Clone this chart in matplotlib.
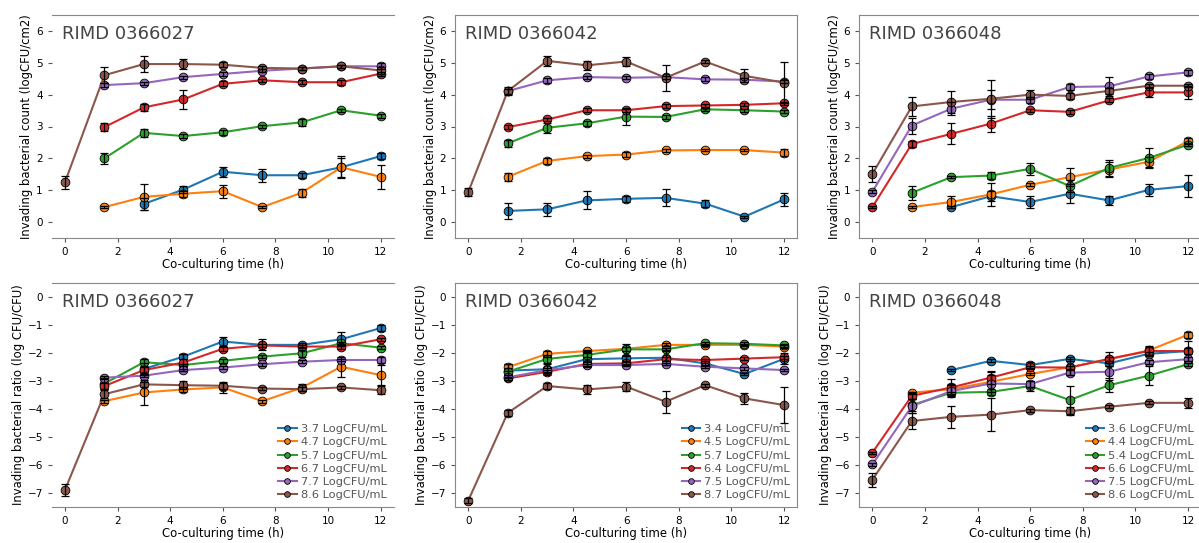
import numpy as np
import matplotlib
matplotlib.use("Agg")
import matplotlib.pyplot as plt

nan = np.nan

# sampling times (h)
times = [0, 1.5, 3, 4.5, 6, 7.5, 9, 10.5, 12]
strains = ["RIMD 0366027", "RIMD 0366042", "RIMD 0366048"]

# inoculum labels per strain
doses_027 = ["3.7", "4.7", "5.7", "6.7", "7.7", "8.6"]
doses_042 = ["3.4", "4.5", "5.7", "6.4", "7.5", "8.7"]
doses_048 = ["3.6", "4.4", "5.4", "6.6", "7.5", "8.6"]

# invading count (logCFU/cm2), rows = doses low -> high
count_027 = [
    [nan, nan, 0.57, 1.02, 1.58, 1.47, 1.47, 1.72, 2.07],
    [nan, 0.47, 0.79, 0.89, 0.97, 0.47, 0.92, 1.72, 1.42],
    [nan, 2.00, 2.80, 2.70, 2.82, 3.01, 3.13, 3.51, 3.34],
    [nan, 2.98, 3.60, 3.85, 4.34, 4.45, 4.39, 4.39, 4.66],
    [nan, 4.30, 4.36, 4.55, 4.65, 4.75, 4.82, 4.89, 4.89],
    [1.25, 4.61, 4.96, 4.96, 4.94, 4.84, 4.82, 4.89, 4.76],
]
count_027_err = [
    [nan, nan, 0.20, 0.10, 0.15, 0.20, 0.08, 0.30, 0.10],
    [nan, 0.03, 0.42, 0.10, 0.20, 0.03, 0.12, 0.35, 0.37],
    [nan, 0.18, 0.13, 0.05, 0.08, 0.05, 0.12, 0.05, 0.06],
    [nan, 0.12, 0.12, 0.30, 0.08, 0.05, 0.06, 0.08, 0.06],
    [nan, 0.05, 0.05, 0.05, 0.05, 0.05, 0.05, 0.05, 0.10],
    [0.20, 0.25, 0.25, 0.15, 0.08, 0.05, 0.05, 0.05, 0.10],
]
count_042 = [
    [nan, 0.35, 0.40, 0.68, 0.73, 0.76, 0.58, 0.17, 0.71],
    [nan, 1.42, 1.92, 2.07, 2.12, 2.25, 2.26, 2.26, 2.18],
    [nan, 2.47, 2.96, 3.10, 3.31, 3.30, 3.54, 3.51, 3.47],
    [nan, 2.98, 3.22, 3.51, 3.51, 3.64, 3.66, 3.68, 3.73],
    [nan, 4.11, 4.45, 4.55, 4.53, 4.55, 4.48, 4.47, 4.41],
    [0.94, 4.11, 5.06, 4.92, 5.04, 4.53, 5.04, 4.59, 4.38],
]
count_042_err = [
    [nan, 0.25, 0.20, 0.28, 0.10, 0.27, 0.10, 0.03, 0.20],
    [nan, 0.12, 0.10, 0.05, 0.08, 0.05, 0.03, 0.03, 0.10],
    [nan, 0.12, 0.15, 0.08, 0.25, 0.06, 0.05, 0.05, 0.05],
    [nan, 0.06, 0.06, 0.06, 0.06, 0.06, 0.05, 0.05, 0.05],
    [nan, 0.08, 0.08, 0.05, 0.05, 0.05, 0.06, 0.06, 0.05],
    [0.12, 0.12, 0.15, 0.15, 0.15, 0.40, 0.05, 0.20, 0.63],
]
count_048 = [
    [nan, nan, 0.47, 0.81, 0.63, 0.89, 0.68, 1.01, 1.13],
    [nan, 0.47, 0.63, 0.87, 1.17, 1.41, 1.65, 1.89, 2.54],
    [nan, 0.92, 1.41, 1.46, 1.67, 1.13, 1.70, 2.01, 2.43],
    [0.47, 2.45, 2.77, 3.09, 3.51, 3.46, 3.82, 4.07, 4.07],
    [0.95, 3.03, 3.56, 3.84, 3.84, 4.24, 4.26, 4.57, 4.70],
    [1.51, 3.63, 3.77, 3.87, 4.00, 3.96, 4.12, 4.28, 4.28],
]
count_048_err = [
    [nan, nan, 0.03, 0.15, 0.20, 0.30, 0.15, 0.20, 0.35],
    [nan, 0.03, 0.20, 0.35, 0.05, 0.28, 0.25, 0.15, 0.10],
    [nan, 0.22, 0.04, 0.12, 0.18, 0.20, 0.25, 0.30, 0.05],
    [0.03, 0.10, 0.33, 0.25, 0.05, 0.06, 0.06, 0.15, 0.20],
    [0.05, 0.25, 0.20, 0.30, 0.10, 0.10, 0.30, 0.08, 0.08],
    [0.25, 0.30, 0.35, 0.60, 0.15, 0.10, 0.10, 0.05, 0.05],
]

# invading ratio (log CFU/CFU)
ratio_027 = [
    [nan, nan, -2.57, -2.13, -1.59, -1.71, -1.71, -1.51, -1.11],
    [nan, -3.72, -3.41, -3.30, -3.23, -3.72, -3.24, -2.49, -2.79],
    [nan, -3.09, -2.33, -2.43, -2.28, -2.13, -2.01, -1.65, -1.81],
    [nan, -3.18, -2.61, -2.34, -1.85, -1.73, -1.77, -1.77, -1.51],
    [nan, -2.88, -2.81, -2.61, -2.52, -2.40, -2.31, -2.25, -2.25],
    [-6.89, -3.47, -3.12, -3.15, -3.17, -3.27, -3.29, -3.23, -3.33],
]
ratio_027_err = [
    [nan, nan, 0.20, 0.10, 0.15, 0.20, 0.08, 0.25, 0.10],
    [nan, 0.05, 0.45, 0.10, 0.20, 0.05, 0.12, 0.35, 0.35],
    [nan, 0.18, 0.13, 0.05, 0.08, 0.05, 0.12, 0.05, 0.06],
    [nan, 0.12, 0.12, 0.30, 0.08, 0.05, 0.06, 0.08, 0.06],
    [nan, 0.05, 0.05, 0.05, 0.05, 0.05, 0.05, 0.05, 0.10],
    [0.20, 0.15, 0.10, 0.15, 0.10, 0.05, 0.08, 0.05, 0.15],
]
ratio_042 = [
    [nan, -2.63, -2.58, -2.22, -2.19, -2.17, -2.37, -2.75, -2.21],
    [nan, -2.51, -2.03, -1.93, -1.85, -1.71, -1.71, -1.71, -1.77],
    [nan, -2.67, -2.21, -2.07, -1.87, -1.87, -1.65, -1.67, -1.73],
    [nan, -2.91, -2.67, -2.39, -2.37, -2.22, -2.25, -2.20, -2.15],
    [nan, -2.87, -2.61, -2.43, -2.43, -2.39, -2.49, -2.55, -2.61],
    [-7.27, -4.14, -3.18, -3.30, -3.20, -3.74, -3.15, -3.62, -3.86],
]
ratio_042_err = [
    [nan, 0.25, 0.20, 0.28, 0.10, 0.27, 0.10, 0.03, 0.20],
    [nan, 0.12, 0.10, 0.05, 0.08, 0.05, 0.03, 0.03, 0.05],
    [nan, 0.12, 0.15, 0.08, 0.20, 0.06, 0.05, 0.05, 0.05],
    [nan, 0.06, 0.06, 0.06, 0.06, 0.06, 0.05, 0.05, 0.05],
    [nan, 0.08, 0.08, 0.05, 0.05, 0.05, 0.06, 0.06, 0.05],
    [0.10, 0.12, 0.12, 0.15, 0.15, 0.40, 0.05, 0.20, 0.65],
]
ratio_048 = [
    [nan, nan, -2.61, -2.28, -2.43, -2.21, -2.37, -2.03, -1.93],
    [nan, -3.42, -3.29, -3.03, -2.75, -2.51, -2.22, -1.91, -1.35],
    [nan, -3.86, -3.42, -3.39, -3.18, -3.68, -3.15, -2.81, -2.40],
    [-5.56, -3.53, -3.23, -2.88, -2.51, -2.52, -2.21, -1.93, -1.93],
    [-5.98, -3.90, -3.36, -3.09, -3.11, -2.70, -2.67, -2.33, -2.22],
    [-6.53, -4.43, -4.28, -4.20, -4.04, -4.08, -3.92, -3.78, -3.78],
]
ratio_048_err = [
    [nan, nan, 0.03, 0.05, 0.10, 0.08, 0.10, 0.08, 0.10],
    [nan, 0.03, 0.20, 0.35, 0.05, 0.28, 0.25, 0.15, 0.10],
    [nan, 0.22, 0.04, 0.12, 0.18, 0.50, 0.25, 0.35, 0.05],
    [0.03, 0.10, 0.30, 0.22, 0.05, 0.06, 0.06, 0.15, 0.35],
    [0.05, 0.25, 0.20, 0.30, 0.10, 0.10, 0.30, 0.08, 0.08],
    [0.25, 0.30, 0.40, 0.60, 0.05, 0.15, 0.06, 0.05, 0.18],
]

colors = ['#1f77b4', '#ff7f0e', '#2ca02c', '#d62728', '#9467bd', '#8c564b']

W, H = 1199, 543
fig = plt.figure(figsize=(W / 100, H / 100), dpi=100)

lefts = [51.8, 455.1, 859.2]
ax_w = 342
rows = [(15, 238), (283, 507)]  # top, bottom in pixels


def draw_panel(ax, means, errs, doses, name, ylabel, ylim, yticks, legend, left_col):
    t = np.array(times)
    for i in range(len(means)):
        m = np.array(means[i], dtype=float)
        e = np.array(errs[i], dtype=float)
        ok = ~np.isnan(m)
        ax.plot(t[ok], m[ok], color=colors[i], lw=1.5, marker='o', ms=6.3,
                mec='black', mew=0.6, label=doses[i] + " LogCFU/mL", zorder=3)
        ax.errorbar(t[ok], m[ok], yerr=e[ok], fmt='none', ecolor='black',
                    elinewidth=0.9, capsize=3, capthick=0.9, zorder=4)
    ax.set_xlim(-0.5, 12.5)
    ax.set_ylim(*ylim)
    ax.set_xticks(range(0, 13, 2))
    ax.set_yticks(yticks)
    ax.tick_params(labelsize=7.5, length=3, color='#555555')
    ax.set_xlabel("Co-culturing time (h)", fontsize=8.4, labelpad=1)
    ax.set_ylabel(ylabel, fontsize=8.4, labelpad=2)
    for s in ax.spines.values():
        s.set_color('#888888')
    if left_col:
        ax.spines['left'].set_visible(False)
        ax.spines['right'].set_visible(False)
    ax.text(0.03, 0.915, name, transform=ax.transAxes, fontsize=13,
            color='#444444', ha='left', va='center')
    if legend:
        ax.legend(loc='lower right', frameon=False, fontsize=8.2,
                  labelcolor='#555555', handlelength=1.6, handletextpad=0.4,
                  labelspacing=0.28, markerscale=0.65, borderaxespad=0.2)


counts = [(count_027, count_027_err), (count_042, count_042_err), (count_048, count_048_err)]
ratios = [(ratio_027, ratio_027_err), (ratio_042, ratio_042_err), (ratio_048, ratio_048_err)]
doses = [doses_027, doses_042, doses_048]

for col in range(3):
    for r in range(2):
        top, bot = rows[r]
        rect = [lefts[col] / W, 1 - bot / H, ax_w / W, (bot - top) / H]
        ax = fig.add_axes(rect)
        if r == 0:
            m, e = counts[col]
            draw_panel(ax, m, e, doses[col], strains[col],
                       "Invading bacterial count (logCFU/cm2)",
                       (-0.5, 6.5), range(0, 7), False, col == 0)
        else:
            m, e = ratios[col]
            draw_panel(ax, m, e, doses[col], strains[col],
                       "Invading bacterial ratio (log CFU/CFU)",
                       (-7.5, 0.5), range(-7, 1), True, col == 0)

fig.savefig("out.png", dpi=100)
